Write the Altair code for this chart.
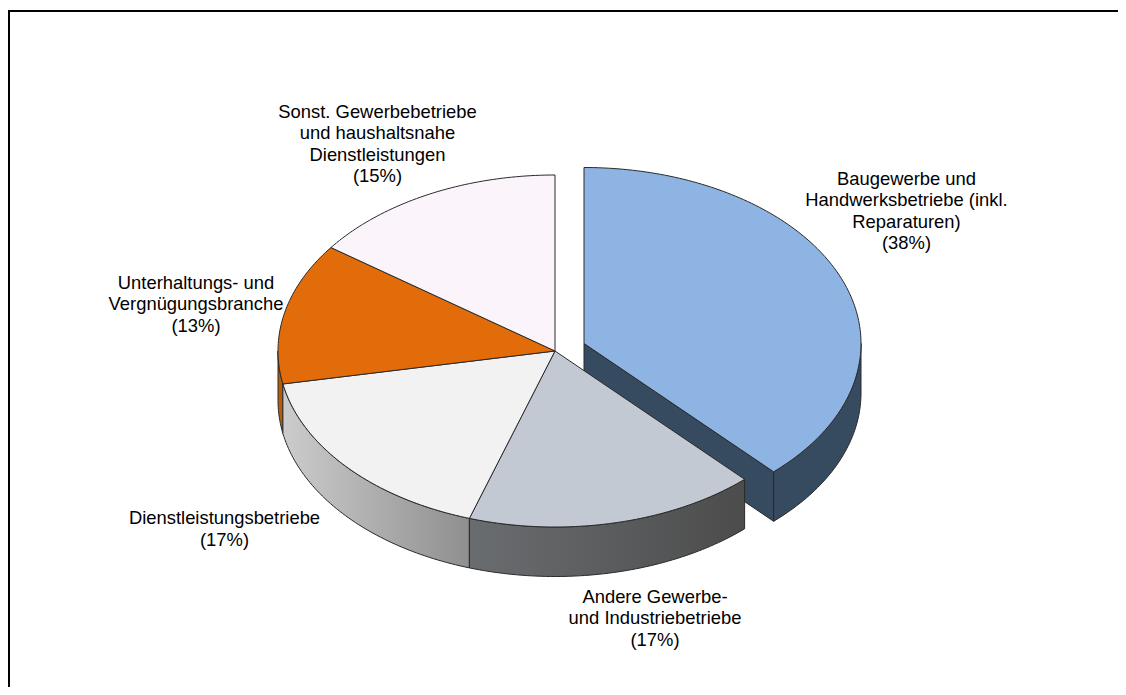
import math
import altair as alt
import pandas as pd

# --- values ---
names = ["Baugewerbe", "Andere", "Dienstleistung", "Unterhaltung", "Sonstige"]
shares = [38, 17, 17, 13, 15]
label_texts = [
    "Baugewerbe und\nHandwerksbetriebe (inkl.\nReparaturen)\n(38%)",
    "Andere Gewerbe-\nund Industriebetriebe\n(17%)",
    "Dienstleistungsbetriebe\n(17%)",
    "Unterhaltungs- und\nVergnügungsbranche\n(13%)",
    "Sonst. Gewerbebetriebe\nund haushaltsnahe\nDienstleistungen\n(15%)",
]

# --- styling and geometry (reference pixel space) ---
top_colors = ["#8db4e2", "#c3c9d3", "#f2f2f2", "#e36c0a", "#fbf5fb"]
label_x = [906.5, 655, 224.5, 196, 377.5]
label_y = [169.5, 587.5, 509, 273.5, 102.5]
CX, CY, A, B, DEPTH = 555, 351, 277, 176, 49.5
EX, EY = 584, 343.5  # centre of the pulled-out slice
EDGE = "#2a2a2a"

W, H = 1110, 679
xs = alt.Scale(domain=[8, 8 + W], range=[0, W])
ys = alt.Scale(domain=[8 + H, 8], range=[H, 0])
X = alt.X("x:Q", scale=xs, axis=None)
Y = alt.Y("y:Q", scale=ys, axis=None)
Y2 = alt.Y2("y2:Q")


def pt(cx, cy, deg):
    r = math.radians(deg)
    return cx + A * math.sin(r), cy - B * math.cos(r)


def arc(cx, cy, a0, a1):
    n = max(2, int(abs(a1 - a0)) + 1)
    return [pt(cx, cy, a0 + (a1 - a0) * i / (n - 1)) for i in range(n)]


def poly(points, fill, width=1):
    df = pd.DataFrame(points, columns=["x", "y"])
    df["i"] = range(len(df))
    return alt.Chart(df).mark_line(
        fill=fill, stroke=EDGE, strokeWidth=width, interpolate="linear", clip=False
    ).encode(x=X, y=Y, order="i:Q")


def wall(cx, cy, a0, a1, fill):
    pts = arc(cx, cy, a0, a1)
    df = pd.DataFrame(pts, columns=["x", "y"])
    df["y2"] = df["y"] + DEPTH
    return alt.Chart(df).mark_area(
        fill=fill, stroke=EDGE, strokeWidth=1, interpolate="linear"
    ).encode(x=X, y=Y, y2=Y2)


def grad(c0, c1):
    return {
        "gradient": "linear", "x1": 0, "x2": 1, "y1": 0, "y2": 0,
        "stops": [{"offset": 0, "color": c0}, {"offset": 1, "color": c1}],
    }


edges = [0]
for s in shares:
    edges.append(edges[-1] + s * 3.6)

layers = []

# frame (only top and left edges)
frame_top = pd.DataFrame({"x": [8, 8 + W], "y": [11, 11]})
frame_left = pd.DataFrame({"x": [9, 9], "y": [11, 8 + H]})
for f in (frame_top, frame_left):
    layers.append(alt.Chart(f).mark_line(color="#000000", strokeWidth=2).encode(x=X, y=Y))

# pulled-out slice: cut wall, outer wall, top
a_end = edges[1]
ex, ey = pt(EX, EY, a_end)
layers.append(poly([(EX, EY), (ex, ey), (ex, ey + DEPTH), (EX, EY + DEPTH), (EX, EY)], "#364a60"))
layers.append(wall(EX, EY, 90, a_end, "#364a60"))
layers.append(poly([(EX, EY)] + arc(EX, EY, 0, a_end) + [(EX, EY)], top_colors[0]))

# walls of the rest
layers.append(wall(CX, CY, edges[3], 270, "#b85c08"))
layers.append(wall(CX, CY, edges[2], edges[3], grad("#cccccc", "#8f8f8f")))
layers.append(wall(CX, CY, edges[1], edges[2], grad("#6a6d70", "#4c4c4c")))

# tops of the rest
for k in range(1, len(shares)):
    layers.append(
        poly([(CX, CY)] + arc(CX, CY, edges[k], edges[k + 1]) + [(CX, CY)], top_colors[k])
    )

# labels
labels = pd.DataFrame({"x": label_x, "y": label_y, "t": label_texts})
layers.append(
    alt.Chart(labels).mark_text(
        font="Liberation Sans", fontSize=18.4, align="center", baseline="top",
        lineBreak="\n", lineHeight=21.6, color="#000000",
    ).encode(x=X, y=Y, text="t:N")
)

chart = (
    alt.layer(*layers)
    .properties(width=W, height=H, padding=0, autosize="none")
    .configure_view(stroke=None)
)
chart.save("out.html", embed_options={"renderer": "svg", "actions": False})
